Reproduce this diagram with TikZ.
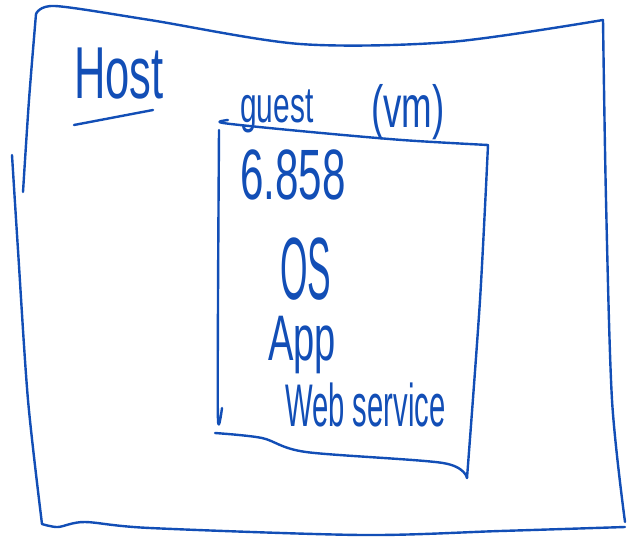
\documentclass[tikz,border=0pt]{standalone}
\usepackage{fontspec}
\setmainfont{Liberation Sans}
\usepackage{graphicx}
\definecolor{ink}{RGB}{18,78,182}
\newcommand{\hwtext}[3][1.15]{\fontsize{#2}{#2}\selectfont\scalebox{0.68}[#1]{#3}}
\tikzset{
  pen/.style={draw=ink, line width=2.4pt, line cap=round, line join=round},
  hand/.style={text=ink, inner sep=0pt, anchor=base west},
}
\begin{document}
\begin{tikzpicture}[x=1pt,y=-1pt]
\useasboundingbox (0,0) rectangle (631,543);
% outer (host) box
\draw[pen] plot[smooth, tension=0.5] coordinates {(23,192) (29,100) (36,14)};
\draw[pen] plot[smooth, tension=0.5] coordinates {(36,14) (55,6) (150,20) (300,44) (450,42) (603,20)};
\draw[pen] plot[smooth, tension=0.5] coordinates {(603,20) (606,200) (612,400) (625,522)};
\draw[pen] plot[smooth, tension=0.5] coordinates {(625,527) (500,531) (362,535) (150,528) (85,522) (58,527) (42,524)};
\draw[pen] plot[smooth, tension=0.5] coordinates {(42,524) (28,400) (18,250) (12,155)};
% inner (guest) box
\draw[pen] plot[smooth, tension=0.5] coordinates {(228,120) (223,123) (300,131) (402,140) (488,145)};
\draw[pen] plot[smooth, tension=0.5] coordinates {(488,145) (480,300) (467,478)};
\draw[pen] plot[smooth, tension=0.5] coordinates {(467,478) (443,463) (306,452) (262,438) (215,433)};
\draw[pen] plot[smooth, tension=0.5] coordinates {(219,130) (218,300) (218,420) (222,408)};
% labels
\node[hand] (host) at (74,98) {\hwtext{64}{Host}};
\draw[pen] (74,125) -- (153,110);
\node[hand] (guest) at (240,122) {\hwtext{44}{guest}};
\node[hand] (vm) at (371,127) {\hwtext[1.1]{54}{(vm)}};
\node[hand] (course) at (240,199) {\hwtext{62}{6.858}};
\node[hand] (os) at (280,299) {\hwtext[1.7]{52}{OS}};
\node[hand] (app) at (268,360) {\hwtext{56}{App}};
\node[hand] (web) at (285,426) {\hwtext[1.4]{43}{Web service}};
\end{tikzpicture}
\end{document}
